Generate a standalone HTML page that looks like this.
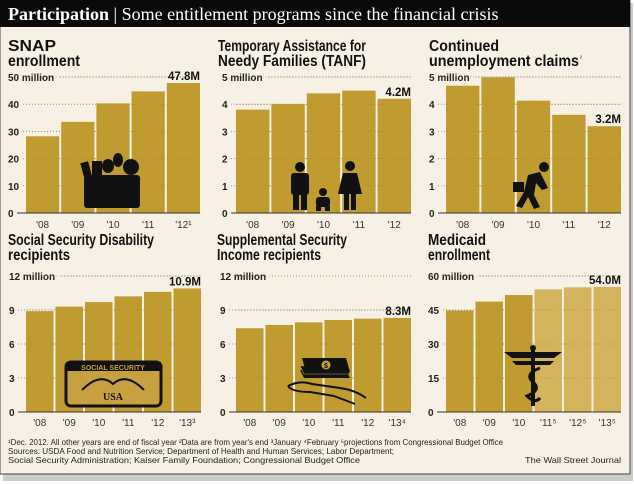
<!DOCTYPE html>
<html><head><meta charset="utf-8"><style>
html,body{margin:0;padding:0;background:#fff;}
svg{display:block;font-family:"Liberation Sans",sans-serif;}
</style></head><body>
<svg id="c" width="634" height="484" viewBox="0 0 634 484">
<rect x="3" y="3" width="630" height="478" fill="#9a9a9a" opacity="0.5"/>
<rect x="0" y="0" width="630" height="474" fill="#f6f1e4" stroke="#444" stroke-width="1"/>
<rect x="0" y="0" width="630" height="27" fill="#0a0a0a"/>
<text x="8" y="20" fill="#fff" font-family="Liberation Serif,serif" font-size="18"><tspan font-weight="bold">Participation</tspan> | Some entitlement programs since the financial crisis</text>
<g id="charts"></g>
<g>
<g fill="#111">
<rect x="84" y="175" width="56" height="33" rx="3"/>
<rect x="82" y="162" width="8" height="14" transform="rotate(-15 86 169)"/>
<rect x="92" y="161" width="10" height="14"/>
<ellipse cx="108" cy="166" rx="6" ry="7"/>
<ellipse cx="118" cy="160" rx="5" ry="7"/>
<ellipse cx="131" cy="167" rx="8" ry="8"/>
</g>
<g fill="#111">
<circle cx="300" cy="167" r="5"/><rect x="291" y="173" width="18" height="22" rx="3"/><rect x="293" y="192" width="6" height="18"/><rect x="301" y="192" width="6" height="18"/>
<circle cx="323" cy="192" r="4"/><rect x="316" y="197" width="14" height="10" rx="3"/><rect x="316" y="206" width="5" height="5"/><rect x="325" y="206" width="5" height="5"/>
<circle cx="350" cy="166" r="5"/><polygon points="343,173 357,173 362,194 338,194"/><rect x="344" y="193" width="5" height="17"/><rect x="351" y="193" width="5" height="17"/>
</g>
<g fill="#111">
<circle cx="544" cy="167" r="5"/>
<polygon points="528,175 540,172 548,188 542,190 536,183 534,195 540,207 534,209 528,197 522,208 516,206 524,192"/>
<rect x="513" y="182" width="11" height="10"/>
</g>
<g>
<rect x="66" y="362" width="95" height="44" rx="5" fill="#c7a040" stroke="#111" stroke-width="3"/>
<rect x="66" y="362" width="95" height="9" fill="#111"/>
<text x="113" y="370" font-size="7" font-weight="bold" fill="#c7a040" text-anchor="middle">SOCIAL SECURITY</text>
<path d="M82 390 Q100 372 113 384 Q126 372 144 390" fill="none" stroke="#111" stroke-width="2"/>
<text x="113" y="400" font-size="10" font-weight="bold" fill="#111" text-anchor="middle" font-family="Liberation Serif,serif">USA</text>
</g>
<g>
<polygon points="300,370 346,370 350,378 304,378" fill="#111"/>
<polygon points="300,366 346,366 350,374 304,374" fill="#111" stroke="#c7a040" stroke-width="0.6"/>
<polygon points="302,358 346,358 350,372 306,372" fill="#111"/>
<circle cx="326" cy="365" r="4.5" fill="#c7a040"/>
<text x="326" y="368" font-size="7" font-weight="bold" fill="#111" text-anchor="middle">$</text>
<path d="M288 386 Q300 380 312 384 L340 388 Q355 390 366 398 M288 386 Q292 392 310 392 L334 396 M334 396 L355 404" fill="none" stroke="#111" stroke-width="2"/>
</g>
<g fill="#111">
<circle cx="533" cy="348" r="3"/><rect x="531" y="350" width="4" height="56"/>
<polygon points="504,352 531,352 531,358 512,358"/><polygon points="535,352 562,352 554,358 535,358"/>
<polygon points="512,361 531,361 531,365 516,365"/><polygon points="535,361 554,361 550,365 535,365"/>
<path d="M540 368 Q524 374 533 382 Q542 390 527 396 Q535 404 540 398" fill="none" stroke="#111" stroke-width="3"/>
</g>
</g>
<g font-size="8.3" fill="#222">
<text x="8" y="445" textLength="495" lengthAdjust="spacingAndGlyphs">¹Dec. 2012. All other years are end of fiscal year   ²Data are from year's end  ³January   ⁴February  ⁵projections from Congressional Budget Office</text>
<text x="8" y="454" textLength="386" lengthAdjust="spacingAndGlyphs">Sources: USDA Food and Nutrition Service; Department of Health and Human Services; Labor Department;</text>
<text x="8" y="463" textLength="352" lengthAdjust="spacingAndGlyphs">Social Security Administration; Kaiser Family Foundation; Congressional Budget Office</text>
<text x="621" y="463" text-anchor="end" textLength="96" lengthAdjust="spacingAndGlyphs">The Wall Street Journal</text>
</g>
</svg>
<script>
const snapYears = ["'08","'09","'10","'11","'12¹"];
const snapValues = [28.2, 33.5, 40.3, 44.7, 47.8];
const snapTicks = [0,10,20,30,40,50];
const tanfYears = ["'08","'09","'10","'11","'12"];
const tanfValues = [3.8, 4.0, 4.4, 4.5, 4.2];
const tanfTicks = [0,1,2,3,4,5];
const uiYears = ["'08","'09","'10","'11","'12"];
const uiValues = [4.68, 4.99, 4.13, 3.61, 3.19];
const uiTicks = [0,1,2,3,4,5];
const ssdiYears = ["'08","'09","'10","'11","'12","'13³"];
const ssdiValues = [8.9, 9.3, 9.7, 10.2, 10.6, 10.9];
const ssdiTicks = [0,3,6,9,12];
const ssiYears = ["'08","'09","'10","'11","'12","'13⁴"];
const ssiValues = [7.39, 7.68, 7.91, 8.12, 8.24, 8.3];
const ssiTicks = [0,3,6,9,12];
const medYears = ["'08","'09","'10","'11⁵","'12⁵","'13⁵"];
const medValues = [44.8, 48.7, 51.6, 54.1, 55.0, 55.2];
const medProjected = [false,false,false,true,true,true];
const medTicks = [0,15,30,45,60];

const NS="http://www.w3.org/2000/svg";
const root=document.getElementById('charts');
function mk(tag,attrs,parent){const e=document.createElementNS(NS,tag);for(const k in attrs)e.setAttribute(k,attrs[k]);(parent||root).appendChild(e);return e;}

const panels=[
 {id:'snap',t1:'SNAP',t2:'enrollment',l1:48,l2:72,tx:8,lx:8,x0:26,x1:200,top:77,base:213,yearY:228,years:snapYears,vals:snapValues,ticks:snapTicks,unit:'million',label:'47.8M'},
 {id:'tanf',t1:'Temporary Assistance for',t2:'Needy Families (TANF)',l1:148,l2:148,tx:218,lx:222,x0:236,x1:411,top:77,base:213,yearY:228,years:tanfYears,vals:tanfValues,ticks:tanfTicks,unit:'million',label:'4.2M'},
 {id:'unemployment',t1:'Continued',t2:'unemployment claims',l1:70,l2:150,tx:429,lx:429,x0:446,x1:621,top:77,base:213,yearY:228,years:uiYears,vals:uiValues,ticks:uiTicks,unit:'million',label:'3.2M',sup:'²'},
 {id:'ssdi',t1:'Social Security Disability',t2:'recipients',l1:146,l2:62,tx:8,lx:9,x0:26,x1:201,top:276,base:412,yearY:426,years:ssdiYears,vals:ssdiValues,ticks:ssdiTicks,unit:'million',label:'10.9M'},
 {id:'ssi',t1:'Supplemental Security',t2:'Income recipients',l1:130,l2:104,tx:217,lx:220,x0:236,x1:411,top:276,base:412,yearY:426,years:ssiYears,vals:ssiValues,ticks:ssiTicks,unit:'million',label:'8.3M'},
 {id:'medicaid',t1:'Medicaid',t2:'enrollment',l1:58,l2:62,tx:428,lx:428,x0:446,x1:621,top:276,base:412,yearY:426,years:medYears,vals:medValues,ticks:medTicks,unit:'million',label:'54.0M',proj:medProjected}
];

panels.forEach(p=>{
 const g=mk('g',{});
 
 
 const tY=p.top===77?51:245;
 const t1=mk('text',{x:p.tx,y:tY,'font-size':15.5,'font-weight':'bold',fill:'#111',textLength:p.l1,lengthAdjust:'spacingAndGlyphs'},g);
 t1.textContent=p.t1;
 
 
 const t2=mk('text',{x:p.tx,y:tY+15,'font-size':15.5,'font-weight':'bold',fill:'#111',textLength:p.l2,lengthAdjust:'spacingAndGlyphs'},g);
 t2.textContent=p.t2;
 
 
 if(p.sup){const s=mk('text',{x:p.tx+p.l2+1,y:tY+9,'font-size':6,fill:'#111'},g);s.textContent=p.sup;
  
  }
 const max=p.ticks[p.ticks.length-1];
 const y=v=>p.base-(v/max)*(p.base-p.top);
 const n=p.vals.length, gap=2, w=(p.x1-p.x0-gap*(n-1))/n;
 const xb=i=>p.x0+i*(w+gap);
 p.ticks.forEach((t,i)=>{
  const yy=y(t);
  const lbl=(i===p.ticks.length-1)?t+' '+p.unit:String(t);
  const tx=mk('text',{x:p.lx,y:yy+4,'font-size':10,'font-weight':'bold',fill:'#222'},g);
  tx.textContent=lbl;
  
  
  if(t!==0){
   const sx=p.lx+(i===p.ticks.length-1?String(t).length*6+40:String(t).length*6+3);
   const ln=mk('line',{x1:sx,x2:p.x1,y1:yy,y2:yy,stroke:'#999','stroke-width':1,'stroke-dasharray':'1,2'},g);
   
   
  }
 });
 p.vals.forEach((v,i)=>{
  const r=mk('rect',{x:xb(i),y:y(v),width:w,height:p.base-y(v),fill:(p.proj&&p.proj[i])?'#d3b45c':'#bf9b30'},g);
  
  
  const yt=mk('text',{x:xb(i)+w/2,y:p.yearY,'font-size':10,fill:'#333','text-anchor':'middle'},g);
  yt.textContent=p.years[i];
  
  
 });
 p.ticks.forEach(t=>{if(t===0)return;const yy=y(t);
  const ln=mk('line',{x1:p.x0,x2:p.x1,y1:yy,y2:yy,stroke:'#a88525','stroke-width':0.6,'stroke-dasharray':'1,2'},g);
  
  });
 const ax=mk('line',{x1:p.lx+9,x2:p.x1,y1:p.base,y2:p.base,stroke:'#333','stroke-width':1},g);
 
 
 const lv=p.vals[n-1];
 const vl=mk('text',{x:p.x1,y:y(lv)-3,'font-size':11.5,'font-weight':'bold',fill:'#111','text-anchor':'end'},g);
 vl.textContent=p.label;
 
 
});
</script>
</body></html>
